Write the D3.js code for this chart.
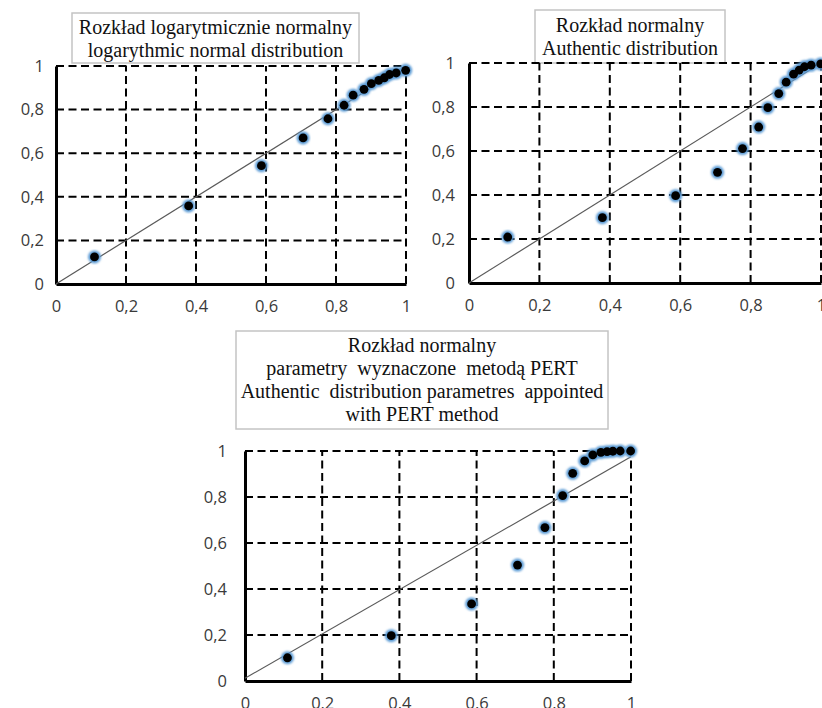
<!DOCTYPE html>
<html>
<head>
<meta charset="utf-8">
<script src="https://cdn.jsdelivr.net/npm/d3@7"></script>
<style>
  body { margin: 0; background: #fff; }
  svg { display: block; }
  .tick text { font-family: "Open Sans", sans-serif; font-size: 16.5px; fill: #3a3a3a; }
  .title { font-family: "Liberation Serif", "Times New Roman", serif; font-size: 20px; fill: #111; white-space: pre; }
</style>
</head>
<body>
<svg id="chart" width="822" height="708"></svg>
<script>
// empirical probabilities (x) shared by all three panels
const xVals = [0.110, 0.379, 0.587, 0.706, 0.777, 0.823, 0.849, 0.880, 0.901, 0.922, 0.938, 0.953, 0.972, 0.999];

// theoretical probabilities (y) for each fitted distribution
const yLogNormal = [0.124, 0.358, 0.543, 0.670, 0.758, 0.820, 0.866, 0.893, 0.919, 0.934, 0.946, 0.961, 0.968, 0.980];
const yNormal    = [0.209, 0.297, 0.397, 0.503, 0.611, 0.709, 0.797, 0.861, 0.913, 0.949, 0.968, 0.983, 0.990, 0.996];
const yPert      = [0.101, 0.197, 0.335, 0.504, 0.667, 0.806, 0.903, 0.957, 0.983, 0.994, 0.997, 0.999, 1.000, 1.000];

// reference lines (start / end points in data units)
const lineLogNormal = [[0, 0], [1, 1]];
const lineNormal    = [[0, 0], [1, 1]];
const linePert      = [[0, 0.012], [1, 0.975]];

const ticks = [0, 0.2, 0.4, 0.6, 0.8, 1];

const title1 = ["Rozkład logarytmicznie normalny", "logarythmic normal distribution"];
const title2 = ["Rozkład normalny", "Authentic distribution"];
const title3 = ["Rozkład normalny", "parametry  wyznaczone  metodą PERT", "Authentic  distribution parametres  appointed", "with PERT method"];

const svg = d3.select("#chart");
const fmt = d => String(d).replace(".", ",");

const defs = svg.append("defs");
defs.append("filter").attr("id", "glow")
    .append("feGaussianBlur").attr("stdDeviation", 0.9);

function drawPanel(p) {
  const x = d3.scaleLinear().domain([0, 1]).range([p.x0, p.x1]),
        y = d3.scaleLinear().domain([0, 1]).range([p.y1, p.y0]),
        g = svg.append("g");

  // title box
  const tb = g.append("g");
  tb.append("rect")
      .attr("x", p.box[0]).attr("y", p.box[1])
      .attr("width", p.box[2] - p.box[0]).attr("height", p.box[3] - p.box[1])
      .attr("fill", "#fff")
      .attr("stroke", "#c4c4c4")
      .attr("stroke-width", 1.5);
  p.title.forEach((t, i) => {
    tb.append("text")
      .attr("class", "title")
      .attr("x", p.tx)
      .attr("y", p.ty + i * 23)
      .attr("text-anchor", "middle")
      .text(t);
  });

  // dashed grid
  g.selectAll(".hgrid")
    .data(ticks.slice(1))
    .enter().append("line")
      .attr("x1", x(0)).attr("x2", x(1))
      .attr("y1", d => y(d)).attr("y2", d => y(d))
      .attr("stroke", "#000").attr("stroke-width", 2)
      .attr("stroke-dasharray", "8,4.5");

  g.selectAll(".vgrid")
    .data(ticks.slice(1))
    .enter().append("line")
      .attr("x1", d => x(d)).attr("x2", d => x(d))
      .attr("y1", y(0)).attr("y2", y(1))
      .attr("stroke", "#000").attr("stroke-width", 2)
      .attr("stroke-dasharray", "8,4.5");

  // axes
  const ax = g.append("g")
      .attr("transform", `translate(0,${y(0)})`)
      .call(d3.axisBottom(x).tickValues(ticks).tickFormat(fmt).tickSize(0).tickPadding(16));
  const ay = g.append("g")
      .attr("transform", `translate(${x(0)},0)`)
      .call(d3.axisLeft(y).tickValues(ticks).tickFormat(fmt).tickSize(0).tickPadding(p.ypad));
  [ax, ay].forEach(a => a.select(".domain").attr("stroke", "#000").attr("stroke-width", 3));

  // reference line
  g.append("line")
      .attr("x1", x(p.line[0][0])).attr("y1", y(p.line[0][1]))
      .attr("x2", x(p.line[1][0])).attr("y2", y(p.line[1][1]))
      .attr("stroke", "#5a5a5a")
      .attr("stroke-width", 1.2);

  // points
  const pts = xVals.map((v, i) => [v, p.ys[i]]);
  g.selectAll(".halo")
    .data(pts)
    .enter().append("circle")
      .attr("cx", d => x(d[0])).attr("cy", d => y(d[1]))
      .attr("r", 6.5)
      .attr("fill", "#5b9bd5")
      .attr("filter", "url(#glow)");
  g.selectAll(".dot")
    .data(pts)
    .enter().append("circle")
      .attr("cx", d => x(d[0])).attr("cy", d => y(d[1]))
      .attr("r", 4.4)
      .attr("fill", "#000");
}

drawPanel({x0: 56, x1: 406, y0: 66, y1: 284, ypad: 12, ys: yLogNormal, line: lineLogNormal,
           title: title1, box: [72, 13, 359, 63], tx: 215.5, ty: 34});
drawPanel({x0: 469, x1: 821, y0: 63, y1: 283, ypad: 14, ys: yNormal, line: lineNormal,
           title: title2, box: [535, 10, 725, 63], tx: 630, ty: 32});
drawPanel({x0: 245, x1: 631, y0: 451, y1: 681, ypad: 18, ys: yPert, line: linePert,
           title: title3, box: [236, 331, 608, 429], tx: 422, ty: 352});
</script>
</body>
</html>
